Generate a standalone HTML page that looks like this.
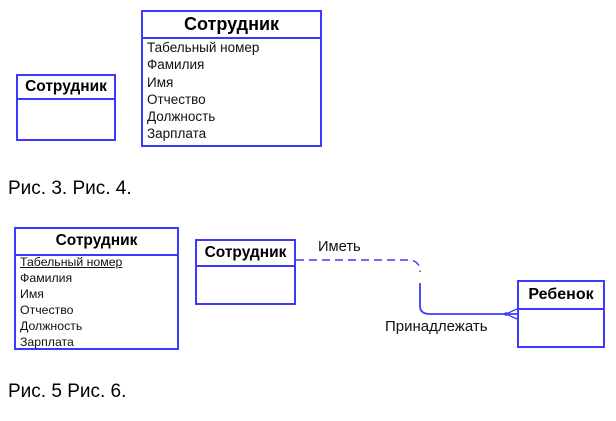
<!DOCTYPE html><html><head><meta charset="utf-8"><style>
body{margin:0;width:616px;height:421px;background:#fff;position:relative;font-family:"Liberation Sans",sans-serif;overflow:hidden}
.b{position:absolute;border:2px solid #3a3aff;box-sizing:border-box}
.h{position:absolute;left:0;right:0;border-bottom:2px solid #3a3aff;text-align:center;font-weight:bold;color:#000}
.r{position:absolute;font-size:13.5px;color:#111;white-space:nowrap}
.t{position:absolute;font-size:19px;color:#000;white-space:nowrap}
</style></head><body>
<div class="b" style="left:16px;top:74px;width:100px;height:67px"><div class="h" style="top:0;height:22px;line-height:22px;font-size:15.5px">Сотрудник</div></div>
<div class="b" style="left:141px;top:10px;width:181px;height:137px"><div class="h" style="top:0;height:25px;line-height:24px;font-size:18px">Сотрудник</div>
<div class="r" style="left:4px;top:27px;line-height:17.3px">Табельный номер<br>Фамилия<br>Имя<br>Отчество<br>Должность<br>Зарплата</div></div>
<div class="t" style="left:8px;top:178px">Рис. 3. Рис. 4.</div>
<div class="b" style="left:14px;top:227px;width:165px;height:123px"><div class="h" style="top:0;height:25px;line-height:24px;font-size:15.5px">Сотрудник</div>
<div class="r" style="left:4px;top:25px;line-height:16px;font-size:12.3px"><u>Табельный номер</u><br>Фамилия<br>Имя<br>Отчество<br>Должность<br>Зарплата</div></div>
<div class="b" style="left:195px;top:239px;width:101px;height:66px"><div class="h" style="top:0;height:24px;line-height:23px;font-size:15.5px">Сотрудник</div></div>
<div class="b" style="left:517px;top:280px;width:88px;height:68px"><div class="h" style="top:0;height:26px;line-height:25px;font-size:16px">Ребенок</div></div>
<svg style="position:absolute;left:0;top:0" width="616" height="421">
<path d="M296 260 H408 Q420 260 420 272" fill="none" stroke="#3a3aff" stroke-width="1.5" stroke-dasharray="8,5"/>
<path d="M420 283 V306 Q420 314 430 314 H517" fill="none" stroke="#3a3aff" stroke-width="1.8"/>
<path d="M506 314 L517 309 M506 314 L517 319" stroke="#3a3aff" stroke-width="1.3"/>
<circle cx="506" cy="314" r="1.8" fill="#3a3aff"/>
</svg>
<div class="r" style="left:318px;top:239px;font-size:14.7px">Иметь</div>
<div class="r" style="left:385px;top:318px;font-size:15px">Принадлежать</div>
<div class="t" style="left:8px;top:381px">Рис. 5 Рис. 6.</div>
</body></html>
